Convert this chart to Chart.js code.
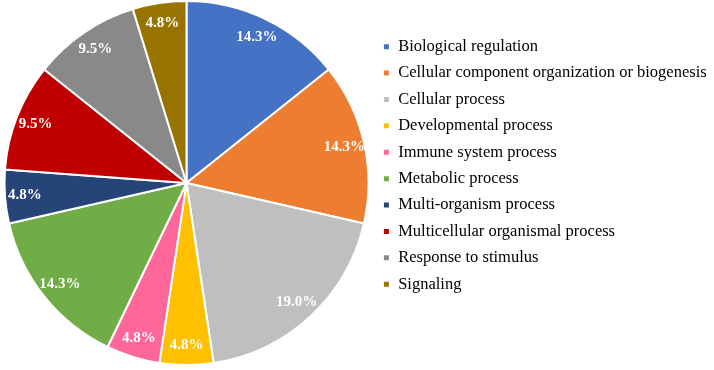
<!DOCTYPE html>
<html>
<head>
<meta charset="utf-8">
<script src="https://cdn.jsdelivr.net/npm/chart.js@4/dist/chart.umd.min.js"></script>
<style>
  html, body { margin: 0; padding: 0; background: #fff; }
</style>
</head>
<body>
<canvas id="myChart" width="714" height="370"></canvas>
<script>
// GO terms (biological process) and gene counts per term
const categories = [
  'Biological regulation',
  'Cellular component organization or biogenesis',
  'Cellular process',
  'Developmental process',
  'Immune system process',
  'Metabolic process',
  'Multi-organism process',
  'Multicellular organismal process',
  'Response to stimulus',
  'Signaling'
];
const counts = [3, 3, 4, 1, 1, 3, 1, 2, 2, 1];

const sliceColors = [
  '#4472C4', '#ED7D31', '#BFBFBF', '#FFC000', '#FF6699',
  '#70AD47', '#264478', '#C00000', '#898989', '#997300'
];

// percentage labels drawn inside each slice
const pctLabels = {
  id: 'pctLabels',
  afterDatasetsDraw(chart) {
    const ctx = chart.ctx;
    const meta = chart.getDatasetMeta(0);
    const total = counts.reduce((a, b) => a + b, 0);
    ctx.save();
    ctx.font = 'bold 15px "Liberation Serif", "Times New Roman", serif';
    ctx.fillStyle = '#ffffff';
    ctx.textAlign = 'center';
    ctx.textBaseline = 'middle';
    meta.data.forEach((arc, i) => {
      const p = arc.getProps(['x', 'y', 'startAngle', 'endAngle', 'outerRadius'], true);
      const mid = (p.startAngle + p.endAngle) / 2;
      const r = p.outerRadius * 0.89;
      const text = (counts[i] / total * 100).toFixed(1) + '%';
      ctx.fillText(text, p.x + Math.cos(mid) * r, p.y + Math.sin(mid) * r);
    });
    ctx.restore();
  }
};

const ctx = document.getElementById('myChart').getContext('2d');
const myChart = new Chart(ctx, {
  type: 'pie',
  data: {
    labels: categories,
    datasets: [{
      data: counts,
      backgroundColor: sliceColors,
      borderColor: '#ffffff',
      borderWidth: 2
    }]
  },
  options: {
    responsive: false,
    animation: false,
    devicePixelRatio: 1,
    radius: 182,
    layout: {
      padding: { left: 0, right: 0, top: 0, bottom: 4 }
    },
    plugins: {
      tooltip: { enabled: false },
      legend: {
        position: 'right',
        align: 'start',
        maxWidth: 341,
        title: {
          display: true,
          text: '',
          padding: 0,
          font: { size: 10, lineHeight: '28.5px' }
        },
        labels: {
          boxWidth: 7,
          boxHeight: 7,
          padding: 9.9,
          color: '#000000',
          font: { size: 16.5, family: '"Liberation Serif", "Times New Roman", serif' }
        }
      }
    }
  },
  plugins: [pctLabels]
});
</script>
</body>
</html>
